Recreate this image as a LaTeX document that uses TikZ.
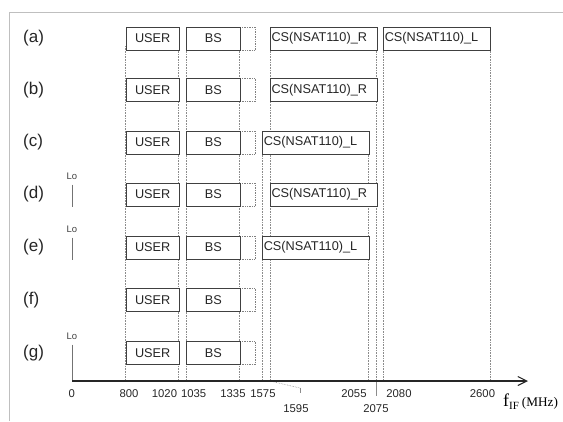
\documentclass[tikz,border=0pt]{standalone}
\usepackage{fontspec}
\setmainfont{Liberation Sans}
\newfontfamily\timesfont{Liberation Serif}
\usetikzlibrary{arrows.meta}

\begin{document}
\begin{tikzpicture}[x=1pt, y=-1pt,
    band/.style={draw=black!75, fill=white, line width=1pt, minimum height=23pt, inner sep=0pt, anchor=west,
        text=black!85, font=\fontsize{12.7}{12.7}\selectfont},
    csband/.style={band, text width=104.5pt, inner xsep=1pt, align=left},
    spare/.style={draw=black!50, densely dotted, line width=0.7pt, minimum height=23pt, minimum width=15.3pt,
        inner sep=0pt, anchor=west},
    guide/.style={black!45, densely dotted, line width=0.6pt},
    freqlab/.style={font=\fontsize{11.3}{11.3}\selectfont, text=black!85, inner sep=0pt},
    rowlab/.style={font=\fontsize{17}{17}\selectfont, text=black!85, anchor=west, inner sep=0pt},
    lolab/.style={font=\fontsize{9.5}{9.5}\selectfont, text=black!75, inner sep=0pt}]
    \useasboundingbox (0,0) rectangle (563,421);
    \draw[black!25, line width=1pt] (9,421) -- (9,12.5) -- (563,12.5);

    \coordinate (f0) at (72,381); \coordinate (f800) at (125.7,381); \coordinate (f1020) at (178.7,381);
    \coordinate (f1035) at (186,381); \coordinate (f1335) at (239.7,381); \coordinate (f1575) at (262.3,381);
    \coordinate (f1595) at (270,381); \coordinate (f2055) at (368.3,381); \coordinate (f2075) at (376,381);
    \coordinate (f2080) at (383.3,381); \coordinate (f2600) at (490,381); \coordinate (fend) at (528,381);
    \coordinate (k1595) at (300,388);

    % band edges down to the axis
    \foreach \f in {800,1020,1035,1335,1595,2075,2080,2600} {\draw[guide] (f\f) -- ++(0,-335);}
    \foreach \f in {1575,2055} {\draw[guide] (f\f) -- ++(0,-235);}
    \draw[guide] (f1595) -- (k1595); \draw[black!45, line width=0.6pt] (k1595) -- ++(0,5);
    \draw[black!45, line width=0.6pt] (f2075) -- ++(0,15);

    \foreach \r/\y in {a/38.5, b/90, c/142.5, d/194.5, e/247.5, f/300, g/353} {
        \node[rowlab] (lab\r) at (23,\y) {(\r)};
        \node[spare] (sp\r) at (239.7,\y) {};
        \node[band, minimum width=53pt] (user\r) at (125.7,\y) {USER};
        \node[band, minimum width=53.7pt] (bs\r) at (186,\y) {BS};
    }
    \node[csband] (csRa) at (270,38.5) {CS(NSAT110)\_R}; \node[csband] (csLa) at (383.3,38.5) {CS(NSAT110)\_L};
    \node[csband] (csRb) at (270,90) {CS(NSAT110)\_R};
    \node[csband] (csLc) at (262.3,142.5) {CS(NSAT110)\_L};
    \node[csband] (csRd) at (270,194.5) {CS(NSAT110)\_R};
    \node[csband] (csLe) at (262.3,247.5) {CS(NSAT110)\_L};

    \foreach \r/\y/\e in {d/176/207, e/229/260, g/336/381} {
        \node[lolab] (lo\r) at (72,\y) {Lo};
        \draw[black!55, line width=1pt] (lo\r.south) ++(0,5) -- (72,\e);
    }

    \draw[line width=1.1pt, black!85, -{Straight Barb[length=9pt, width=9pt]}] (f0) -- (fend);
    \foreach \f/\x in {0/71.7, 800/129, 1020/164.5, 1035/193.7, 1335/233, 1575/263, 2055/354, 2080/399, 2600/482.5}
        {\node[freqlab] (n\f) at (\x,394) {\f};}
    \node[freqlab] (n1595) at (296,409) {1595}; \node[freqlab] (n2075) at (376,409) {2075};
    \node[anchor=base west, inner sep=0pt] (funit) at (503,406) {\timesfont\fontsize{18}{18}\selectfont
        f\raisebox{-3.5pt}{\fontsize{11}{11}\selectfont IF}\,\fontsize{13.2}{13.2}\selectfont(MHz)};
\end{tikzpicture}
\end{document}
